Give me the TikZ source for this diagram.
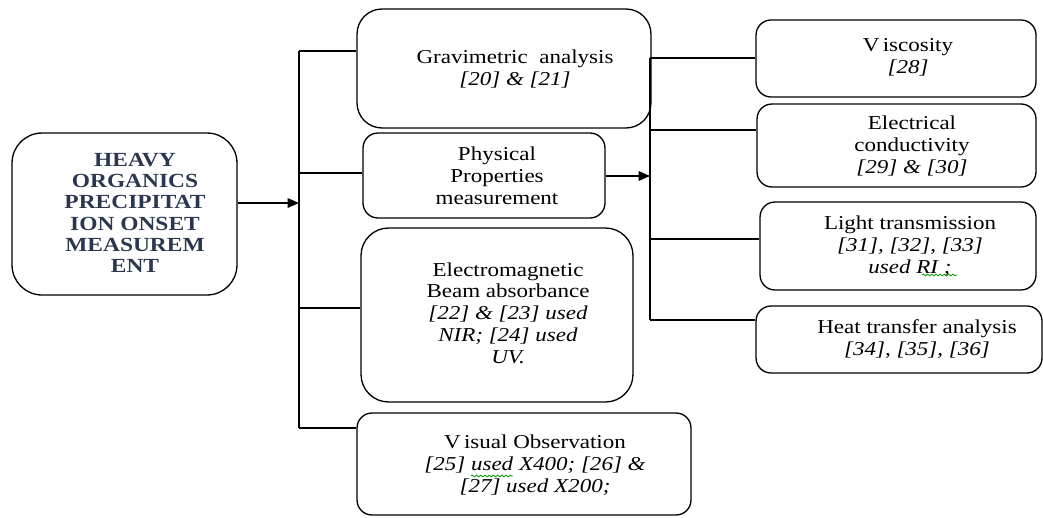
\documentclass[tikz,border=0pt]{standalone}
\usepackage{fontspec}
\setmainfont{Liberation Serif}[FakeStretch=1.17]
\usetikzlibrary{arrows.meta,decorations.pathmorphing}
\definecolor{navy}{HTML}{2B3650}
\begin{document}
\begin{tikzpicture}[x=0.02cm,y=-0.02cm,
  box/.style={draw, line width=0.75pt, rounded corners=0.3cm, inner sep=0pt},
  lbl/.style={align=center, inner sep=0pt, font=\fontsize{11.2}{12.4}\selectfont},
  conn/.style={line width=0.75pt},
  arr/.style={line width=0.75pt, -{Triangle[length=6.5pt,width=5.5pt]}},
  spell/.style={green!60!black, line width=0.45pt, decorate, decoration={snake, amplitude=0.5pt, segment length=2.4pt}}]
\useasboundingbox (0,0) rectangle (1043,517);
% boxes
\node[box, rounded corners=0.6cm, minimum width=4.5cm, minimum height=3.24cm] (heavy) at (124.5,214) {};
\node[box, rounded corners=0.5cm, minimum width=5.88cm, minimum height=2.38cm] (grav) at (504,68.5) {};
\node[box, minimum width=4.84cm, minimum height=1.7cm] (phys) at (484,175.5) {};
\node[box, rounded corners=0.55cm, minimum width=5.44cm, minimum height=3.48cm] (em) at (497,315) {};
\node[box, minimum width=6.68cm, minimum height=2.04cm] (vis) at (524,464) {};
\node[box, minimum width=5.6cm, minimum height=1.54cm] (visc) at (896,58.5) {};
\node[box, minimum width=5.58cm, minimum height=1.66cm] (elec) at (896.5,145.5) {};
\node[box, minimum width=5.52cm, minimum height=1.76cm] (light) at (898,246) {};
\node[box, minimum width=5.72cm, minimum height=1.34cm] (heat) at (899,339.5) {};
% texts
\node[lbl, text=navy, font=\fontsize{11.4}{12.1}\selectfont\bfseries] (theavy) at (135,213) {HEAVY\\ORGANICS\\PRECIPITAT\\ION ONSET\\MEASUREM\\ENT};
\node[lbl] (tgrav) at (515,69) {Gravimetric\ \ analysis\\\textit{[20] \& [21]}};
\node[lbl] (tphys) at (497,176) {Physical\\Properties\\measurement};
\node[lbl] (tem) at (508,313) {Electromagnetic\\Beam absorbance\\\textit{[22] \& [23] used}\\\textit{NIR; [24] used}\\\textit{UV.}};
\node[lbl] (tvis) at (535,465) {V\,isual Observation\\\textit{[25] used X400; [26] \&}\\\textit{[27] used X200;}};
\node[lbl] (tvisc) at (908,57) {V\,iscosity\\\textit{[28]}};
\node[lbl] (telec) at (912,146) {Electrical\\conductivity\\\textit{[29] \& [30]}};
\node[lbl] (tlight) at (910,246) {Light transmission\\\textit{[31], [32], [33]}\\\textit{used RI ;}};
\node[lbl] (theat) at (917,339) {Heat transfer analysis\\\textit{[34], [35], [36]}};
% spell-check marks
\draw[spell] (471,476) -- (513,476);
\draw[spell] (922,275) -- (957,275);
% left bus
\coordinate (b1) at (299,203);
\coordinate (btop) at (299,51);
\coordinate (bphys) at (299,173);
\coordinate (bem) at (299,308);
\coordinate (bbot) at (299,428);
\draw[arr] (heavy.east |- b1) -- (b1);
\draw[conn] (btop) -- (bbot);
\draw[conn] (btop) -- (grav.west |- btop);
\draw[conn] (bphys) -- (phys.west |- bphys);
\draw[conn] (bem) -- (em.west |- bem);
\draw[conn] (bbot) -- (vis.west |- bbot);
% right bus
\coordinate (rtop) at (650,58);
\coordinate (relec) at (650,130);
\coordinate (rphys) at (650,176);
\coordinate (rlight) at (650,239);
\coordinate (rbot) at (650,320);
\draw[conn] (rtop) -- (rbot);
\draw[conn] (rtop) -- (visc.west |- rtop);
\draw[conn] (relec) -- (elec.west |- relec);
\draw[conn] (rlight) -- (light.west |- rlight);
\draw[conn] (rbot) -- (heat.west |- rbot);
\draw[arr] (phys.east |- rphys) -- (rphys);
\end{tikzpicture}
\end{document}
